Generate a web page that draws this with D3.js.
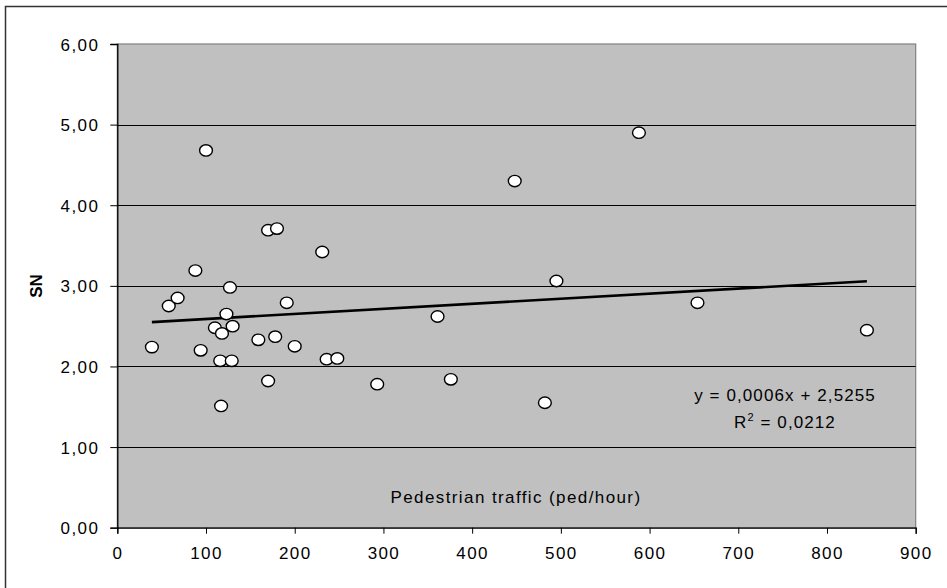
<!DOCTYPE html>
<html lang="en">
<head>
  <meta charset="utf-8">
  <title>SN vs pedestrian traffic</title>
  <script src="https://d3js.org/d3.v7.min.js"></script>
  <style>
    body { margin: 0; background: #fff; }
    text { font-family: Arial, "Liberation Sans", sans-serif; fill: #000; }
  </style>
</head>
<body>
  <div id="container"></div>
  <script>
    var w = 947, h = 588;

    // data
    var pedTraffic = [39, 58, 68, 88, 94, 100, 110, 116, 117, 118, 123, 127, 129, 130,
      159, 170, 170, 178, 180, 191, 200, 231, 236, 248, 293, 361, 376, 448, 482, 495,
      588, 654, 845];
    var snValues = [2.24, 2.75, 2.85, 3.19, 2.20, 4.68, 2.48, 2.07, 1.51, 2.41, 2.65, 2.98,
      2.07, 2.50, 2.33, 3.69, 1.82, 2.37, 3.71, 2.79, 2.25, 3.42, 2.09, 2.10, 1.78, 2.62,
      1.84, 4.30, 1.55, 3.06, 4.90, 2.79, 2.45];
    var xTicks = [0, 100, 200, 300, 400, 500, 600, 700, 800, 900];
    var yTicks = [0, 1, 2, 3, 4, 5, 6];
    var trendSlope = 0.00063, trendIntercept = 2.5255;
    var eqLines = ["y = 0,0006x + 2,5255", "R", "2", " = 0,0212"];

    var plot = { left: 117.3, right: 915.7, top: 44, bottom: 527.7 };

    var svg = d3.select("#container").append("svg")
      .attr("width", w).attr("height", h);

    // outer chart frame
    svg.append("rect")
      .attr("x", 5.5).attr("y", 6.5)
      .attr("width", 960).attr("height", 620)
      .attr("fill", "#fff")
      .attr("stroke", "#333").attr("stroke-width", 1.5);

    var x = d3.scaleLinear().domain([0, 900]).range([plot.left, plot.right]);
    var y = d3.scaleLinear().domain([0, 6]).range([plot.bottom, plot.top]);

    svg.append("rect")
      .attr("x", plot.left).attr("y", plot.top)
      .attr("width", plot.right - plot.left).attr("height", plot.bottom - plot.top)
      .attr("fill", "#c0c0c0")
      .attr("stroke", "#808080").attr("stroke-width", 1.2);

    // gridlines
    svg.selectAll("line.grid")
      .data(yTicks.filter(function(d) { return d > 0 && d < 6; }))
      .enter().append("line")
      .attr("class", "grid")
      .attr("x1", plot.left).attr("x2", plot.right)
      .attr("y1", function(d) { return Math.round(y(d)) + 0.5; })
      .attr("y2", function(d) { return Math.round(y(d)) + 0.5; })
      .attr("stroke", "#000").attr("stroke-width", 1);

    var fmt = function(d) { return d3.format(".2f")(d).replace(".", ","); };

    var yAxis = svg.append("g")
      .attr("transform", "translate(" + plot.left + ",0)")
      .call(d3.axisLeft(y).tickValues(yTicks).tickFormat(fmt).tickSize(7).tickPadding(11));
    var xAxis = svg.append("g")
      .attr("transform", "translate(0," + plot.bottom + ")")
      .call(d3.axisBottom(x).tickValues(xTicks).tickFormat(d3.format("d")).tickSize(6).tickPadding(13));

    [xAxis, yAxis].forEach(function(g) {
      g.attr("font-size", 17).attr("font-family", "Arial, 'Liberation Sans', sans-serif");
      g.selectAll("path.domain").attr("stroke", "#000").attr("stroke-width", 1.3);
      g.selectAll(".tick line").attr("stroke", "#000");
      g.selectAll("text")
        .attr("letter-spacing", "1.4px")
        .attr("fill", "#000");
    });
    yAxis.selectAll("text").attr("dy", "0.36em");

    // trendline over the data range
    var xr = d3.extent(pedTraffic);
    svg.append("line")
      .attr("x1", x(xr[0])).attr("y1", y(trendSlope * xr[0] + trendIntercept))
      .attr("x2", x(xr[1])).attr("y2", y(trendSlope * xr[1] + trendIntercept))
      .attr("stroke", "#000").attr("stroke-width", 2.6);

    // points
    svg.selectAll("ellipse.pt")
      .data(pedTraffic)
      .enter().append("ellipse")
      .attr("class", "pt")
      .attr("cx", function(d) { return x(d); })
      .attr("cy", function(d, i) { return y(snValues[i]); })
      .attr("rx", 6.4).attr("ry", 5.7)
      .attr("fill", "#fff")
      .attr("stroke", "#000").attr("stroke-width", 1.4);

    // labels
    svg.append("text")
      .attr("x", (plot.left + plot.right) / 2 - 0.5).attr("y", 503)
      .attr("text-anchor", "middle")
      .attr("font-size", 17).attr("letter-spacing", "1.4px")
      .text("Pedestrian traffic (ped/hour)");

    svg.append("text")
      .attr("transform", "translate(42,286) rotate(-90)")
      .attr("text-anchor", "middle")
      .attr("font-size", 17).attr("font-weight", "bold")
      .text("SN");

    svg.append("text")
      .attr("x", 785).attr("y", 400.5)
      .attr("text-anchor", "middle")
      .attr("font-size", 17).attr("letter-spacing", "1.1px")
      .text(eqLines[0]);

    var r2 = svg.append("text")
      .attr("x", 785).attr("y", 427.5)
      .attr("text-anchor", "middle")
      .attr("font-size", 17).attr("letter-spacing", "1.1px");
    r2.append("tspan").text(eqLines[1]);
    r2.append("tspan").attr("dy", -7).attr("font-size", 11).text(eqLines[2]);
    r2.append("tspan").attr("dy", 7).text(eqLines[3]);
  </script>
</body>
</html>
